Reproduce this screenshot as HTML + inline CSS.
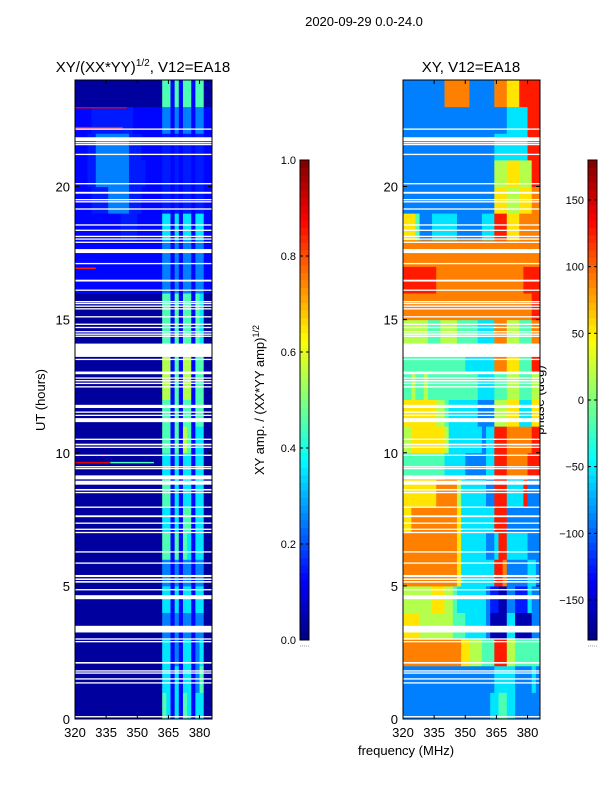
<!DOCTYPE html>
<html><head><meta charset="utf-8"><style>
body{margin:0;background:#fff;}
svg{display:block;font-family:"Liberation Sans",sans-serif;}
</style></head><body>
<svg id="fig" width="600" height="800" viewBox="0 0 600 800" xmlns="http://www.w3.org/2000/svg">
<text x="364" y="26" font-size="13" text-anchor="middle">2020-09-29 0.0-24.0</text>
<text x="143" y="72" font-size="15" text-anchor="middle">XY/(XX*YY)<tspan font-size="10" dy="-6">1/2</tspan><tspan dy="6">, V12=EA18</tspan></text>
<text x="471" y="72" font-size="15" text-anchor="middle">XY, V12=EA18</text>
<text x="45" y="400" font-size="13" text-anchor="middle" transform="rotate(-90 45 400)">UT (hours)</text>
<text x="406" y="755" font-size="13" text-anchor="middle">frequency (MHz)</text>
<text x="264" y="400" font-size="13" text-anchor="middle" transform="rotate(-90 264 400)">XY amp. / (XX*YY amp)<tspan font-size="9" dy="-5">1/2</tspan></text>
<text x="544" y="400" font-size="13" text-anchor="middle" transform="rotate(-90 544 400)">phase (deg)</text>
<g id="layer"></g>
</svg>
<script>
const freqStart = 320, freqStep = 2;
const xTicks = [320, 335, 350, 365, 380];
const yTicks = [0, 5, 10, 15, 20];
const ampTicks = [0.0, 0.2, 0.4, 0.6, 0.8, 1.0];
const phaseTicks = [-150, -100, -50, 0, 50, 100, 150];
// amplitude rows, hour 0 upward, each char = amplitude level
const ampRows = [
"000000000000000000000541415414400",
"000000000000000000000441414413500",
"000000000000000000000441314413400",
"000000000000000000000331313313300",
"000000000000000000000441414414400",
"000000000000000000000331313313300",
"000000000000000000000551515414400",
"000000000000000000000441415514400",
"000000000000000000000551414414400",
"000000000000000000000441414414400",
"000000000000000000000551516514400",
"000000000000000000000551515515500",
"000000000000000000000661516615500",
"000000000000000000000661516615500",
"000000000000000000000551515515400",
"000000000000000000000551515515400",
"111111111111111111111331313313311",
"111111111111111111111331313313311",
"111111111112222111111441414414411",
"111122223333322211111221212212211",
"111223333333322221111221212212211",
"111223333333322211111221212212211",
"111122222222221111111331313313311",
"000000000000000000000551515515500"];
// phase rows, each char = phase bin (0..9 over -180..180)
const phaseRows = [
"222222222222222222222334433222222",
"222222222222222222222233333222232",
"777777777777776655544488855444444",
"666655555555444333332000033000022",
"555555566655433333332110022111322",
"777777777777763333333388722222332",
"777777777777763333332238833333222",
"667777777777763333333388822222222",
"666666667777753333332288833338222",
"444444444433333222223388877777888",
"556666666653333333323388877777788",
"666666665543333333222255566633366",
"445445444444444444333344455544455",
"444444444444444333333377766644488",
"555555444555544444333377755544477",
"777777777777777777777777777777788",
"888888887777777777777777777778888",
"777777777777777777777777777777777",
"666422233333322222233388866677777",
"222222222222222222222266655566677",
"222222222222222222222255566655588",
"222222222222222222222233333333888",
"222222222222222222222222233333888",
"222222222277777722222277766688888"];
// missing-data gaps: [start hour, duration hours]
const gaps = [[0.06,0.05],[1.33,0.05],[1.48,0.05],[1.7,0.05],[1.78,0.05],[2.08,0.06],[2.88,0.05],[2.98,0.05],[3.25,0.25],[4.5,0.15],[4.83,0.05],[5.12,0.06],[5.22,0.06],[5.33,0.08],[5.83,0.05],[6.25,0.05],[6.98,0.05],[7.1,0.05],[7.33,0.05],[7.58,0.07],[7.93,0.05],[8.48,0.05],[8.58,0.06],[8.8,0.15],[9.0,0.15],[9.38,0.05],[9.45,0.05],[9.88,0.05],[10.18,0.05],[10.28,0.06],[10.48,0.05],[11.15,0.15],[11.38,0.05],[11.5,0.05],[11.68,0.12],[12.45,0.05],[12.58,0.05],[12.68,0.05],[12.78,0.05],[12.95,0.1],[13.48,0.05],[13.6,0.5],[14.35,0.05],[14.43,0.05],[14.52,0.05],[14.68,0.05],[14.8,0.05],[15.08,0.05],[15.38,0.05],[15.48,0.05],[15.58,0.05],[15.65,0.05],[16.08,0.05],[16.43,0.07],[17.08,0.05],[17.5,0.15],[17.88,0.05],[18.0,0.05],[18.1,0.05],[18.33,0.05],[18.53,0.05],[19.13,0.05],[19.4,0.05],[19.48,0.05],[19.73,0.07],[20.08,0.05],[21.18,0.05],[21.55,0.05],[21.62,0.05],[21.7,0.15],[22.13,0.05]];
// narrow-band streaks on amp panel: [hour, f0, f1, level]
const ampStreaks = [[22.95,320,345,0.9],[22.2,320,343,0.85],[16.92,320,330,0.85],[9.62,320,337,0.9],[9.62,337,358,0.45]];

function jet(v){v=Math.max(0,Math.min(1,v));
 const r=Math.max(0,Math.min(1,1.5-Math.abs(4*v-3))),g=Math.max(0,Math.min(1,1.5-Math.abs(4*v-2))),b=Math.max(0,Math.min(1,1.5-Math.abs(4*v-1)));
 return `rgb(${Math.round(r*255)},${Math.round(g*255)},${Math.round(b*255)})`;}
const NS='http://www.w3.org/2000/svg';
const layer=document.getElementById('layer');
function mk(tag,attrs,parent){const e=document.createElementNS(NS,tag);for(const k in attrs)e.setAttribute(k,attrs[k]);(parent||layer).appendChild(e);return e;}
const Y0=719,Y1=80,H=24;
const yS=h=>Y0-(h/H)*(Y0-Y1);
function panel(x0,x1,rows,colorOf,name,streaks){
 const ncol=rows[0].length, fMax=freqStart+ncol*freqStep;
 const xS=f=>x0+(f-freqStart)/(fMax-freqStart)*(x1-x0);
 const g=mk('g',{});
 
 
 rows.forEach((row,h)=>{for(let c=0;c<ncol;c++){
  const r=mk('rect',{x:xS(freqStart+c*freqStep),y:yS(h+1),width:xS(freqStart+(c+1)*freqStep)-xS(freqStart+c*freqStep)+0.5,height:yS(h)-yS(h+1)+0.5,fill:colorOf(+row[c])},g);
  
  
 }});
 (streaks||[]).forEach(s=>{const r=mk('rect',{x:xS(s[1]),y:yS(s[0])-1,width:xS(s[2])-xS(s[1]),height:1.5,fill:jet(s[3])},g);
  
  });
 gaps.forEach(gp=>{const r=mk('rect',{x:x0,y:yS(gp[0]+gp[1]),width:x1-x0,height:Math.max(1.3,yS(gp[0])-yS(gp[0]+gp[1])),fill:'#fff'},g);
  
  });
 const fr=mk('rect',{x:x0,y:Y1,width:x1-x0,height:Y0-Y1,fill:'none',stroke:'#000','stroke-width':1});
 
 
 xTicks.forEach(t=>{const x=xS(t);
  mk('line',{x1:x,x2:x,y1:Y0,y2:Y0-4,stroke:'#000'});mk('line',{x1:x,x2:x,y1:Y1,y2:Y1+4,stroke:'#000'});
  const tx=mk('text',{x:x,y:Y0+18,'font-size':13,'text-anchor':'middle'});tx.textContent=t;
  
  });
 yTicks.forEach(t=>{const y=yS(t);
  mk('line',{x1:x0,x2:x0+4,y1:y,y2:y,stroke:'#000'});mk('line',{x1:x1,x2:x1-4,y1:y,y2:y,stroke:'#000'});
  const tx=mk('text',{x:x0-5,y:y+5,'font-size':13,'text-anchor':'end'});tx.textContent=t;
  
  });
}
panel(75,212,ampRows,d=>jet(d<=1 ? d/10+0.03 : d/10-0.05),'amp',ampStreaks);
panel(403,540,phaseRows,d=>jet((d+0.5)/10),'phase',[]);

function colorbar(x,name,ticks,vmin,vmax,fmt){
 const top=160,bot=640,n=64;
 for(let i=0;i<n;i++){const r=mk('rect',{x:x,y:bot-(i+1)*(bot-top)/n,width:9,height:(bot-top)/n+0.5,fill:jet((i+0.5)/n)});
  
  }
 const fr=mk('rect',{x:x,y:top,width:9,height:bot-top,fill:'none',stroke:'#000'});
 
 
 ticks.forEach(t=>{const y=bot-(t-vmin)/(vmax-vmin)*(bot-top);
  mk('line',{x1:x,x2:x+3,y1:y,y2:y,stroke:'#000'});mk('line',{x1:x+9,x2:x+6,y1:y,y2:y,stroke:'#000'});
  const tx=mk('text',{x:x-4,y:y+4,'font-size':11,'text-anchor':'end'});tx.textContent=fmt(t);
  
  });
 mk('line',{x1:x,x2:x+9,y1:646,y2:646,stroke:'#999','stroke-dasharray':'1,1'});
}
colorbar(300,'amp',ampTicks,0,1,t=>t.toFixed(1));
colorbar(588,'phase',phaseTicks,-180,180,t=>t<0?'\u2212'+(-t):''+t);
</script>
</body></html>
